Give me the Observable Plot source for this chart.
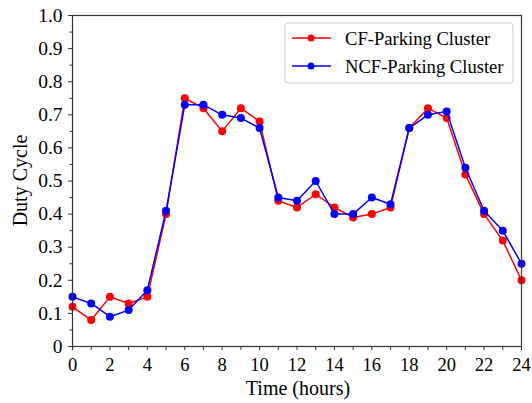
<!DOCTYPE html>
<html>
<head>
<meta charset="utf-8">
<script src="https://cdn.jsdelivr.net/npm/d3@7"></script>
<script src="https://cdn.jsdelivr.net/npm/@observablehq/plot@0.6"></script>
<style>
  html, body { margin: 0; padding: 0; background: #fff; }
  #chart svg { display: block; }
</style>
</head>
<body>
<div id="chart"></div>
<script>
const hours = d3.range(0, 25);
const cfValues = [0.12, 0.08, 0.15, 0.13, 0.15, 0.40, 0.75, 0.72, 0.65, 0.72, 0.68, 0.44, 0.42, 0.46, 0.42, 0.39, 0.40, 0.42, 0.66, 0.72, 0.69, 0.52, 0.40, 0.32, 0.20];
const ncfValues = [0.15, 0.13, 0.09, 0.11, 0.17, 0.41, 0.73, 0.73, 0.70, 0.69, 0.66, 0.45, 0.44, 0.50, 0.40, 0.40, 0.45, 0.43, 0.66, 0.70, 0.71, 0.54, 0.41, 0.35, 0.25];
const seriesNames = ["CF-Parking Cluster", "NCF-Parking Cluster"];
const seriesColors = ["#ff0000", "#0000ff"];
const xMajorTicks = d3.range(0, 25, 2);
const xMinorTicks = d3.range(1, 24, 2);
const yMajorTicks = d3.range(0, 11).map(i => i / 10);
const yMinorTicks = d3.range(0, 10).map(i => i / 10 + 0.05);

const cf = hours.map((h, i) => ({hour: h, value: cfValues[i]}));
const ncf = hours.map((h, i) => ({hour: h, value: ncfValues[i]}));

const font = "'Liberation Serif', 'Times New Roman', serif";

const plot = Plot.plot({
  width: 532,
  height: 403,
  marginLeft: 72,
  marginRight: 11,
  marginTop: 15,
  marginBottom: 57,
  style: {fontFamily: font, fontSize: "18px", color: "#000", background: "#fff"},
  x: {domain: [0, 24]},
  y: {domain: [0, 1]},
  marks: [
    Plot.line(cf, {x: "hour", y: "value", stroke: seriesColors[0], strokeWidth: 1.5}),
    Plot.dot(cf, {x: "hour", y: "value", fill: seriesColors[0], r: 4}),
    Plot.line(ncf, {x: "hour", y: "value", stroke: seriesColors[1], strokeWidth: 1.5}),
    Plot.dot(ncf, {x: "hour", y: "value", fill: seriesColors[1], r: 4}),
    Plot.axisX({ticks: xMajorTicks, tickSize: 4, tickPadding: 7, tickFormat: d => String(d), label: null, stroke: "#333", fill: "#000", fontSize: 18.5, fontFamily: font}),
    Plot.axisX({ticks: xMinorTicks, tickSize: 4, tickFormat: () => "", label: null, stroke: "#333"}),
    Plot.axisY({ticks: yMajorTicks, tickSize: 4, tickPadding: 6, tickFormat: d => d === 0 ? "0" : d.toFixed(1), label: null, stroke: "#333", fill: "#000", fontSize: 19.5, fontFamily: font}),
    Plot.axisY({ticks: yMinorTicks, tickSize: 2.5, tickFormat: () => "", label: null, stroke: "#333"}),
    Plot.frame({stroke: "#333", strokeWidth: 1.2})
  ]
});

const svg = d3.select(plot);

// axis labels
svg.append("text")
  .attr("x", 298).attr("y", 395)
  .attr("text-anchor", "middle")
  .style("font-family", font).style("font-size", "20px").style("fill", "#000")
  .text("Time (hours)");
svg.append("text")
  .attr("transform", `translate(27,${(15 + 346) / 2}) rotate(-90)`)
  .attr("text-anchor", "middle")
  .style("font-family", font).style("font-size", "20px").style("fill", "#000")
  .text("Duty Cycle");

// legend
const lg = svg.append("g").attr("transform", "translate(285,23)");
lg.append("rect").attr("width", 228).attr("height", 60).attr("rx", 3)
  .style("fill", "#fff").style("fill-opacity", 0.9).style("stroke", "#cccccc").style("stroke-width", 1);
seriesNames.forEach((name, i) => {
  const y = 15 + i * 28;
  lg.append("line").attr("x1", 7).attr("x2", 46).attr("y1", y).attr("y2", y)
    .style("stroke", seriesColors[i]).style("stroke-width", 1.5);
  lg.append("circle").attr("cx", 26).attr("cy", y).attr("r", 3.5).style("fill", seriesColors[i]);
  lg.append("text").attr("x", 60).attr("y", y).attr("dy", "0.35em")
    .attr("text-anchor", "start")
    .style("font-family", font).style("font-size", "18.6px").style("fill", "#000")
    .text(name);
});

document.getElementById("chart").appendChild(plot);
</script>
</body>
</html>
